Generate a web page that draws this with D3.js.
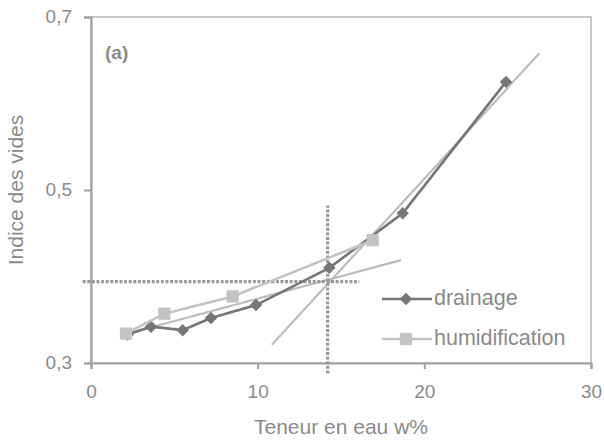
<!DOCTYPE html>
<html>
<head>
<meta charset="utf-8">
<script src="https://cdn.jsdelivr.net/npm/d3@7"></script>
<style>
  html, body { margin: 0; padding: 0; background: #fff; }
  svg { display: block; }
  text { font-family: "Liberation Sans", Arial, sans-serif; fill: #8a8a8a; }
</style>
</head>
<body>
<svg id="chart" width="604" height="445"></svg>
<script>
// Void ratio vs. water content, drainage and wetting paths
const drainageW = [2.2, 3.6, 5.5, 7.2, 9.9, 14.3, 18.7, 24.9];
const drainageE = [0.333, 0.342, 0.338, 0.352, 0.367, 0.410, 0.473, 0.625];
const humidW = [2.1, 4.4, 8.5, 16.9];
const humidE = [0.334, 0.357, 0.377, 0.442];

// Two tangent lines (end points)
const tangentSteepW = [10.85, 26.9];
const tangentSteepE = [0.321, 0.658];
const tangentFlatW = [2.0, 18.6];
const tangentFlatE = [0.333, 0.419];

// Intersection read-out (dotted guides)
const guideW = 14.2;
const guideE = 0.394;

const xTicks = [0, 10, 20, 30];
const yTicks = [0.3, 0.5, 0.7];
const seriesNames = ["drainage", "humidification"];

const svg = d3.select("#chart");
const x = d3.scaleLinear().domain([0, 30]).range([91, 591]);
const y = d3.scaleLinear().domain([0.3, 0.7]).range([363, 17]);

const axisColor = "#a3a3a3";
const darkCol = "#767676";
const lightCol = "#c3c3c3";
const tanCol = "#bcbcbc";
const dotCol = "#9a9a9a";

// plot frame
svg.append("rect")
  .attr("x", x(0)).attr("y", y(0.7))
  .attr("width", x(30) - x(0)).attr("height", y(0.3) - y(0.7))
  .attr("fill", "none").attr("stroke", "#b5b5b5").attr("stroke-width", 1.5);

// axes
const xAxis = svg.append("g").attr("transform", `translate(0,${y(0.3)})`)
  .call(d3.axisBottom(x).tickValues(xTicks).tickSize(6).tickFormat(d3.format("d")));
const yAxis = svg.append("g").attr("transform", `translate(${x(0)},0)`)
  .call(d3.axisLeft(y).tickValues(yTicks).tickSize(7).tickFormat(d => d3.format(".1f")(d).replace(".", ",")));
[xAxis, yAxis].forEach(g => {
  g.select(".domain").attr("stroke", axisColor).attr("stroke-width", 2.2);
  g.selectAll(".tick line").attr("stroke", axisColor).attr("stroke-width", 2);
  g.selectAll(".tick text").attr("fill", "#8a8a8a")
    .style("font-family", "Liberation Sans, Arial, sans-serif").style("font-size", "19px");
});
xAxis.selectAll(".tick text").attr("dy", null).attr("y", 30).attr("dominant-baseline", "middle");
yAxis.selectAll(".tick text").attr("x", -19).attr("dy", null).attr("dominant-baseline", "middle");

// axis titles
svg.append("text").attr("x", 341).attr("y", 428)
  .attr("text-anchor", "middle").attr("dominant-baseline", "middle")
  .style("font-size", "21px").text("Teneur en eau w%");
svg.append("text").attr("transform", "translate(17,190) rotate(-90)")
  .attr("text-anchor", "middle").attr("dominant-baseline", "middle")
  .style("font-size", "21px").text("Indice des vides");

svg.append("text").attr("x", 105).attr("y", 54)
  .attr("dominant-baseline", "middle").style("font-size", "19px")
  .attr("fill", "#7a7a7a").style("font-weight", "bold").text("(a)");

const line = d3.line().x(d => x(d[0])).y(d => y(d[1]));

// tangent lines
[[tangentSteepW, tangentSteepE], [tangentFlatW, tangentFlatE]].forEach(([ws, es]) => {
  svg.append("path").datum(d3.zip(ws, es)).attr("d", line)
    .attr("fill", "none").attr("stroke", tanCol).attr("stroke-width", 2.2);
});

// dotted guides
svg.append("path").datum([[-0.5, guideE], [16.1, guideE]]).attr("d", line)
  .attr("fill", "none").attr("stroke", dotCol).attr("stroke-width", 3.2)
  .attr("stroke-dasharray", "3,1.6");
svg.append("path").datum([[guideW, 0.288], [guideW, 0.482]]).attr("d", line)
  .attr("fill", "none").attr("stroke", dotCol).attr("stroke-width", 3.2)
  .attr("stroke-dasharray", "3,1.6");

// rotated square for the drainage markers
const diamond = d3.symbol().type(d3.symbolSquare).size(78);
const diamondRot = "rotate(45)";
const square = d3.symbol().type(d3.symbolSquare).size(150);

// drainage
const dData = d3.zip(drainageW, drainageE);
svg.append("path").datum(dData).attr("d", line)
  .attr("fill", "none").attr("stroke", darkCol).attr("stroke-width", 2.6);
svg.append("g").selectAll("path").data(dData).join("path")
  .attr("d", diamond).attr("transform", d => `translate(${x(d[0])},${y(d[1])}) ${diamondRot}`)
  .attr("fill", darkCol);

// humidification
const hData = d3.zip(humidW, humidE);
svg.append("path").datum(hData).attr("d", line)
  .attr("fill", "none").attr("stroke", lightCol).attr("stroke-width", 2.6);
svg.append("g").selectAll("path").data(hData).join("path")
  .attr("d", square).attr("transform", d => `translate(${x(d[0])},${y(d[1])})`)
  .attr("fill", lightCol);

// legend
const legend = svg.append("g");
const rows = [
  { name: seriesNames[0], col: darkCol, sym: diamond, sc: diamondRot, yy: 299 },
  { name: seriesNames[1], col: lightCol, sym: square, sc: "", yy: 339 }
];
rows.forEach(r => {
  legend.append("line").attr("x1", 382).attr("x2", 432).attr("y1", r.yy).attr("y2", r.yy)
    .attr("stroke", r.col).attr("stroke-width", 2.6);
  legend.append("path").attr("d", r.sym).attr("transform", `translate(406,${r.yy}) ${r.sc}`)
    .attr("fill", r.col);
  legend.append("text").attr("x", 434).attr("y", r.yy).attr("dominant-baseline", "middle")
    .style("font-size", "21.5px").text(r.name);
});
</script>
</body>
</html>
